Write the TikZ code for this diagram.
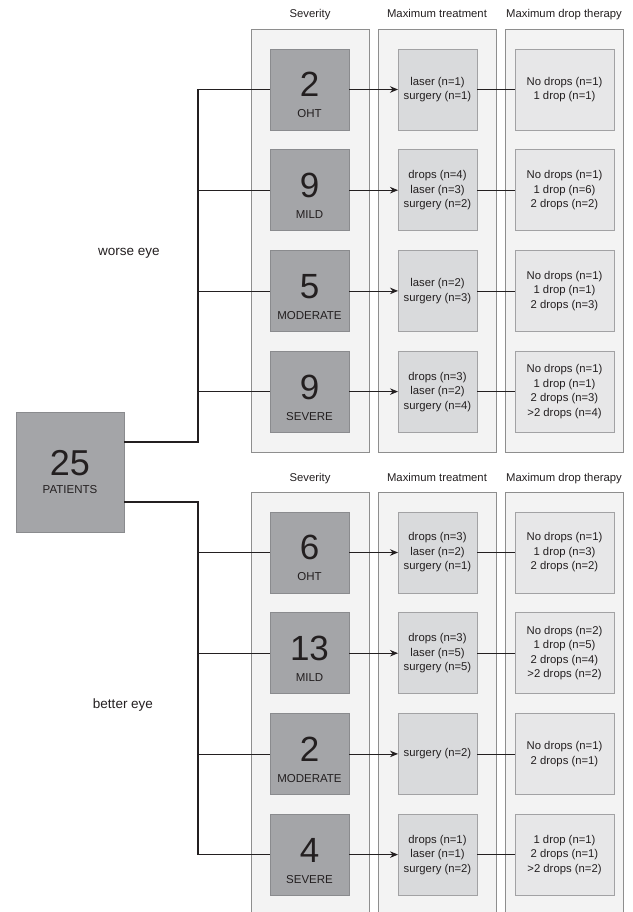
\documentclass[tikz,border=0pt]{standalone}
\usepackage{fontspec}
\setmainfont{Liberation Sans}
\usetikzlibrary{arrows.meta,positioning}
\definecolor{Ink}{HTML}{231F20}
\definecolor{PanelEdge}{HTML}{8E8E8E}
\definecolor{PanelFill}{HTML}{F3F3F3}
\definecolor{SevFill}{HTML}{A4A5A8}
\definecolor{SevEdge}{HTML}{8A8B8E}
\definecolor{TreatFill}{HTML}{D9DADC}
\definecolor{DropFill}{HTML}{E7E7E8}
\definecolor{BoxEdge}{HTML}{A2A2A4}
\newcommand{\sevtext}[2]{\rule{0pt}{36pt}{\fontsize{35}{35}\selectfont #1}\\#2}

\begin{document}
\begin{tikzpicture}[
  x=1pt, y=-1pt,
  node distance=19.7pt,
  every node/.style={outer sep=0pt, text=Ink, font=\fontsize{11.3}{14.5}\selectfont},
  panel/.style={draw=PanelEdge, line width=0.8pt, fill=PanelFill, minimum width=118pt, anchor=north west},
  head/.style={inner sep=0pt, text height=8.5pt, text depth=2.5pt},
  eyelabel/.style={font=\fontsize{13.5}{16}\selectfont},
  patbox/.style={draw=SevEdge, line width=0.8pt, fill=SevFill, minimum width=108pt, minimum height=120pt, align=center, font=\fontsize{11.5}{18}\selectfont},
  sevbox/.style={draw=SevEdge, line width=0.8pt, fill=SevFill, minimum width=79pt, minimum height=81pt, align=center, font=\fontsize{11.5}{21}\selectfont},
  treatbox/.style={draw=BoxEdge, line width=0.8pt, fill=TreatFill, minimum width=79pt, minimum height=81pt, inner sep=1pt, align=center},
  dropbox/.style={draw=BoxEdge, line width=0.8pt, fill=DropFill, minimum width=99pt, minimum height=81pt, inner sep=1pt, align=center},
  trunk/.style={line width=1.4pt, draw=Ink},
  branch/.style={line width=0.8pt, draw=Ink},
  arrow/.style={-{Stealth[length=8pt,width=6.5pt]}, line width=0.8pt, draw=Ink}
]
\useasboundingbox (0,0) rectangle (632,912);

% panels
\node[panel, minimum height=423pt] (sevtop) at (251,29) {};
\node[panel, minimum height=423pt] (treattop) at (378,29) {};
\node[panel, minimum height=423pt] (droptop) at (505,29) {};
\node[panel, minimum height=425pt] (sevbot) at (251,492.5) {};
\node[panel, minimum height=425pt] (treatbot) at (378,492.5) {};
\node[panel, minimum height=425pt] (dropbot) at (505,492.5) {};

\node[head, above=8.5pt of sevtop] (hsevtop) {Severity};
\node[head, above=8.5pt of treattop] (htreattop) {Maximum treatment};
\node[head, above=8.5pt of droptop] (hdroptop) {Maximum drop therapy};
\node[head, above=8.5pt of sevbot] (hsevbot) {Severity};
\node[head, above=8.5pt of treatbot] (htreatbot) {Maximum treatment};
\node[head, above=8.5pt of dropbot] (hdropbot) {Maximum drop therapy};

\node[patbox] (pat) at (70,472) {{\fontsize{36}{36}\selectfont 25}\\PATIENTS};
\node[eyelabel] (worse) at (129,253) {worse eye};
\node[eyelabel] (better) at (123,705) {better eye};

% worse eye
\node[sevbox] (wsev1) at (309.5,89.5) {\sevtext{2}{OHT}};
\node[sevbox, below=of wsev1] (wsev2) {\sevtext{9}{MILD}};
\node[sevbox, below=of wsev2] (wsev3) {\sevtext{5}{MODERATE}};
\node[sevbox, below=of wsev3] (wsev4) {\sevtext{9}{SEVERE}};

\node[treatbox, right=49pt of wsev1] (wtreat1) {laser (n=1)\\surgery (n=1)};
\node[treatbox, right=49pt of wsev2] (wtreat2) {drops (n=4)\\laser (n=3)\\surgery (n=2)};
\node[treatbox, right=49pt of wsev3] (wtreat3) {laser (n=2)\\surgery (n=3)};
\node[treatbox, right=49pt of wsev4] (wtreat4) {drops (n=3)\\laser (n=2)\\surgery (n=4)};

\node[dropbox, right=38pt of wtreat1] (wdrop1) {No drops (n=1)\\1 drop (n=1)};
\node[dropbox, right=38pt of wtreat2] (wdrop2) {No drops (n=1)\\1 drop (n=6)\\2 drops (n=2)};
\node[dropbox, right=38pt of wtreat3] (wdrop3) {No drops (n=1)\\1 drop (n=1)\\2 drops (n=3)};
\node[dropbox, right=38pt of wtreat4] (wdrop4) {No drops (n=1)\\1 drop (n=1)\\2 drops (n=3)\\>2 drops (n=4)};

% better eye
\node[sevbox] (bsev1) at (309.5,552.5) {\sevtext{6}{OHT}};
\node[sevbox, below=of bsev1] (bsev2) {\sevtext{13}{MILD}};
\node[sevbox, below=of bsev2] (bsev3) {\sevtext{2}{MODERATE}};
\node[sevbox, below=of bsev3] (bsev4) {\sevtext{4}{SEVERE}};

\node[treatbox, right=49pt of bsev1] (btreat1) {drops (n=3)\\laser (n=2)\\surgery (n=1)};
\node[treatbox, right=49pt of bsev2] (btreat2) {drops (n=3)\\laser (n=5)\\surgery (n=5)};
\node[treatbox, right=49pt of bsev3] (btreat3) {surgery (n=2)};
\node[treatbox, right=49pt of bsev4] (btreat4) {drops (n=1)\\laser (n=1)\\surgery (n=2)};

\node[dropbox, right=38pt of btreat1] (bdrop1) {No drops (n=1)\\1 drop (n=3)\\2 drops (n=2)};
\node[dropbox, right=38pt of btreat2] (bdrop2) {No drops (n=2)\\1 drop (n=5)\\2 drops (n=4)\\>2 drops (n=2)};
\node[dropbox, right=38pt of btreat3] (bdrop3) {No drops (n=1)\\2 drops (n=1)};
\node[dropbox, right=38pt of btreat4] (bdrop4) {1 drop (n=1)\\2 drops (n=1)\\>2 drops (n=2)};

% tree
\coordinate (wsplit) at (198,442);
\coordinate (bsplit) at (198,502);
\draw[trunk] (pat.east |- wsplit) -- (wsplit) -- (wsplit |- wsev1.west);
\draw[trunk] (pat.east |- bsplit) -- (bsplit) -- (bsplit |- bsev4.west);
\draw[branch] (wsplit |- wsev1.west) -- (wsev1.west);
\draw[branch] (wsplit |- wsev2.west) -- (wsev2.west);
\draw[branch] (wsplit |- wsev3.west) -- (wsev3.west);
\draw[branch] (wsplit |- wsev4.west) -- (wsev4.west);
\draw[branch] (bsplit |- bsev1.west) -- (bsev1.west);
\draw[branch] (bsplit |- bsev2.west) -- (bsev2.west);
\draw[branch] (bsplit |- bsev3.west) -- (bsev3.west);
\draw[branch] (bsplit |- bsev4.west) -- (bsev4.west);

\draw[arrow] (wsev1) -- (wtreat1);
\draw[arrow] (wsev2) -- (wtreat2);
\draw[arrow] (wsev3) -- (wtreat3);
\draw[arrow] (wsev4) -- (wtreat4);
\draw[arrow] (bsev1) -- (btreat1);
\draw[arrow] (bsev2) -- (btreat2);
\draw[arrow] (bsev3) -- (btreat3);
\draw[arrow] (bsev4) -- (btreat4);

\draw[branch] (wtreat1) -- (wdrop1);
\draw[branch] (wtreat2) -- (wdrop2);
\draw[branch] (wtreat3) -- (wdrop3);
\draw[branch] (wtreat4) -- (wdrop4);
\draw[branch] (btreat1) -- (bdrop1);
\draw[branch] (btreat2) -- (bdrop2);
\draw[branch] (btreat3) -- (bdrop3);
\draw[branch] (btreat4) -- (bdrop4);
\end{tikzpicture}
\end{document}
